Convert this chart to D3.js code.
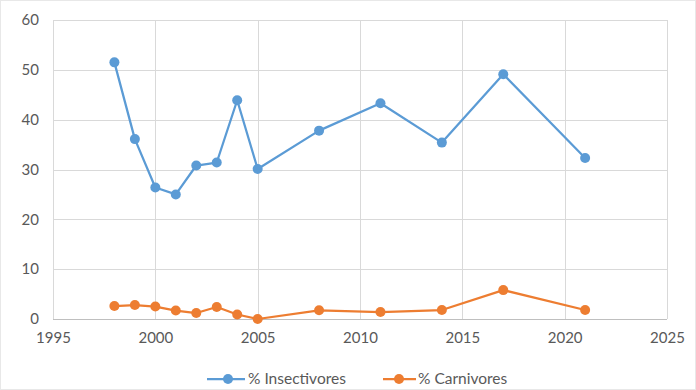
<!DOCTYPE html>
<html>
<head>
<meta charset="utf-8">
<script src="https://cdn.jsdelivr.net/npm/d3@7"></script>
<style>
  body { margin: 0; background: #fff; }
  svg { display: block; font-family: Lato, 'Open Sans', sans-serif; }
</style>
</head>
<body>
<div id="chart"></div>
<script>
// data
const years = [1998, 1999, 2000, 2001, 2002, 2003, 2004, 2005, 2008, 2011, 2014, 2017, 2021];
const insectivores = [51.5, 36.1, 26.4, 25.0, 30.8, 31.4, 43.9, 30.1, 37.8, 43.3, 35.4, 49.1, 32.3];
const carnivores = [2.6, 2.8, 2.5, 1.7, 1.2, 2.4, 0.9, 0.0, 1.75, 1.4, 1.8, 5.8, 1.8];
const xTicks = [1995, 2000, 2005, 2010, 2015, 2020, 2025];
const yTicks = [0, 10, 20, 30, 40, 50, 60];

const width = 696;
const height = 390;
const margin = { top: 20, right: 29, bottom: 71, left: 53 };

const seriesList = [
  { name: '% Insectivores', values: insectivores, color: '#5b9bd5' },
  { name: '% Carnivores', values: carnivores, color: '#ed7d31' },
];

const svg = d3.select('#chart')
  .append('svg')
  .attr('width', width)
  .attr('height', height);

// outer frame
svg.append('rect')
  .attr('x', 0.5).attr('y', 0.5)
  .attr('width', width - 1).attr('height', height - 1)
  .attr('fill', '#fff')
  .attr('stroke', '#e8e8e8');

const x = d3.scaleLinear()
  .domain([1995, 2025])
  .range([margin.left, width - margin.right]);

const y = d3.scaleLinear()
  .domain([0, 60])
  .range([height - margin.bottom, margin.top]);

// gridlines
svg.append('g')
  .selectAll('line')
  .data(yTicks.filter((d) => d > 0))
  .join('line')
  .attr('x1', x(1995)).attr('x2', x(2025))
  .attr('y1', (d) => Math.round(y(d)) + 0.5)
  .attr('y2', (d) => Math.round(y(d)) + 0.5)
  .attr('stroke', '#d9d9d9');

svg.append('g')
  .selectAll('line')
  .data(xTicks)
  .join('line')
  .attr('x1', (d) => Math.round(x(d)) + 0.5)
  .attr('x2', (d) => Math.round(x(d)) + 0.5)
  .attr('y1', y(0)).attr('y2', y(60))
  .attr('stroke', '#d9d9d9');

// zero axis line
svg.append('line')
  .attr('x1', x(1995)).attr('x2', x(2025))
  .attr('y1', Math.round(y(0)) + 0.5)
  .attr('y2', Math.round(y(0)) + 0.5)
  .attr('stroke', '#bfbfbf');

// axes (labels only)
const yAxis = svg.append('g')
  .attr('transform', `translate(${margin.left},0)`)
  .call(d3.axisLeft(y).tickValues(yTicks).tickSize(0).tickPadding(14));

const xAxis = svg.append('g')
  .attr('transform', `translate(0,${height - margin.bottom})`)
  .call(d3.axisBottom(x).tickValues(xTicks).tickFormat(d3.format('d')).tickSize(0).tickPadding(13));

[yAxis, xAxis].forEach((g) => {
  g.select('.domain').remove();
  g.selectAll('text')
    .attr('fill', '#595959')
    .style('font-size', '15px')
    .style('font-family', 'Lato, sans-serif');
});

// series
const line = d3.line()
  .x((d) => x(d[0]))
  .y((d) => y(d[1]));

seriesList.forEach((s) => {
  const pts = years.map((yr, i) => [yr, s.values[i]]);
  svg.append('path')
    .datum(pts)
    .attr('fill', 'none')
    .attr('stroke', s.color)
    .attr('stroke-width', 2.25)
    .attr('stroke-linejoin', 'round')
    .attr('d', line);

  svg.append('g')
    .selectAll('circle')
    .data(pts)
    .join('circle')
    .attr('cx', (d) => x(d[0]))
    .attr('cy', (d) => y(d[1]))
    .attr('r', 5)
    .attr('fill', s.color);
});

// legend
const legendY = 379;
const legendX = [207, 383];
seriesList.forEach((s, i) => {
  const g = svg.append('g').attr('transform', `translate(${legendX[i]},${legendY})`);
  g.append('line')
    .attr('x1', 0).attr('x2', i === 0 ? 38 : 33)
    .attr('stroke', s.color)
    .attr('stroke-width', 2.25);
  g.append('circle')
    .attr('cx', i === 0 ? 21 : 16)
    .attr('r', 5)
    .attr('fill', s.color);
  g.append('text')
    .attr('x', i === 0 ? 41 : 35)
    .attr('dy', '0.35em')
    .attr('fill', '#595959')
    .style('font-size', '15.5px')
    .text(s.name);
});
</script>
</body>
</html>
